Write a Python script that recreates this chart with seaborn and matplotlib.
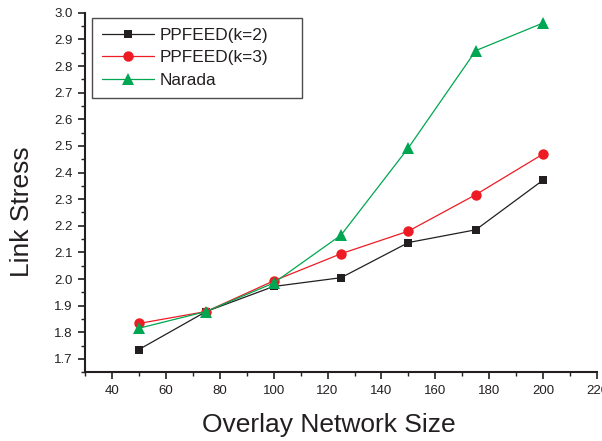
import matplotlib
matplotlib.use("Agg")
import matplotlib.pyplot as plt
import seaborn as sns
import pandas as pd
from matplotlib.ticker import MultipleLocator

sizes = [50, 75, 100, 125, 150, 175, 200]
ppfeed_k2 = [1.735, 1.878, 1.972, 2.005, 2.137, 2.185, 2.372]
ppfeed_k3 = [1.833, 1.878, 1.993, 2.095, 2.180, 2.317, 2.470]
narada = [1.815, 1.878, 1.985, 2.165, 2.493, 2.858, 2.962]
series_names = ["PPFEED(k=2)", "PPFEED(k=3)", "Narada"]
x_ticks = [40, 60, 80, 100, 120, 140, 160, 180, 200, 220]
y_ticks = [1.7, 1.8, 1.9, 2.0, 2.1, 2.2, 2.3, 2.4, 2.5, 2.6, 2.7, 2.8, 2.9, 3.0]

rows = []
for name, vals in zip(series_names, [ppfeed_k2, ppfeed_k3, narada]):
    for x, y in zip(sizes, vals):
        rows.append({"size": x, "stress": y, "series": name})
df = pd.DataFrame(rows)

sns.set_style("ticks")
plt.rcParams["font.family"] = ["Liberation Sans", "DejaVu Sans"]

fig = plt.figure(figsize=(6.02, 4.41), dpi=100)
ax = fig.add_axes([0.141, 0.156, 0.851, 0.815])

ink = "#231f20"
palette = {"PPFEED(k=2)": ink, "PPFEED(k=3)": "#ed1c24", "Narada": "#00a651"}
markers = {"PPFEED(k=2)": "s", "PPFEED(k=3)": "o", "Narada": "^"}
msize = {"s": 6.0, "o": 7.5, "^": 8.0}
sns.lineplot(data=df, x="size", y="stress", hue="series", style="series",
             palette=palette, markers=markers, dashes=False, markersize=7,
             linewidth=0.9, markeredgewidth=0, ax=ax, legend=True)
for ln in ax.lines:
    m = ln.get_marker()
    if m in msize:
        ln.set_markersize(msize[m])

ax.set_xlim(30, 220)
ax.set_ylim(1.65, 3.0)
ax.set_xticks(x_ticks)
ax.set_xticklabels([str(v) for v in x_ticks])
ax.set_yticks(y_ticks)
ax.set_yticklabels([f"{v:.1f}" for v in y_ticks])
ax.xaxis.set_minor_locator(MultipleLocator(10))
ax.yaxis.set_minor_locator(MultipleLocator(0.05))
ax.tick_params(axis="both", which="major", direction="out", length=5, width=1.2,
               labelsize=9.5, colors=ink, pad=4)
ax.tick_params(axis="both", which="minor", direction="out", length=3, width=1.0,
               colors=ink)
for s in ["top", "right"]:
    ax.spines[s].set_visible(False)
for s in ["left", "bottom"]:
    ax.spines[s].set_linewidth(1.5)
    ax.spines[s].set_color(ink)

ax.set_xlabel("Overlay Network Size", fontsize=19, color=ink)
ax.set_ylabel("Link Stress", fontsize=19, color=ink)
ax.xaxis.set_label_coords(0.477, -0.114)
ax.yaxis.set_label_coords(-0.100, 0.446)

leg = ax.legend(loc="upper left", bbox_to_anchor=(0.0137, 0.986, 0.41, 0.0),
                mode="expand", borderaxespad=0,
                fontsize=12.4, frameon=True, fancybox=False, edgecolor=ink,
                handlelength=3.0, handletextpad=0.35, borderpad=0.6,
                labelspacing=0.42)
leg.get_frame().set_linewidth(1.0)
for h in leg.legend_handles:
    m = h.get_marker()
    if m in msize:
        h.set_markersize(msize[m])
for t in leg.get_texts():
    t.set_color(ink)

fig.savefig("out.png", dpi=100)
